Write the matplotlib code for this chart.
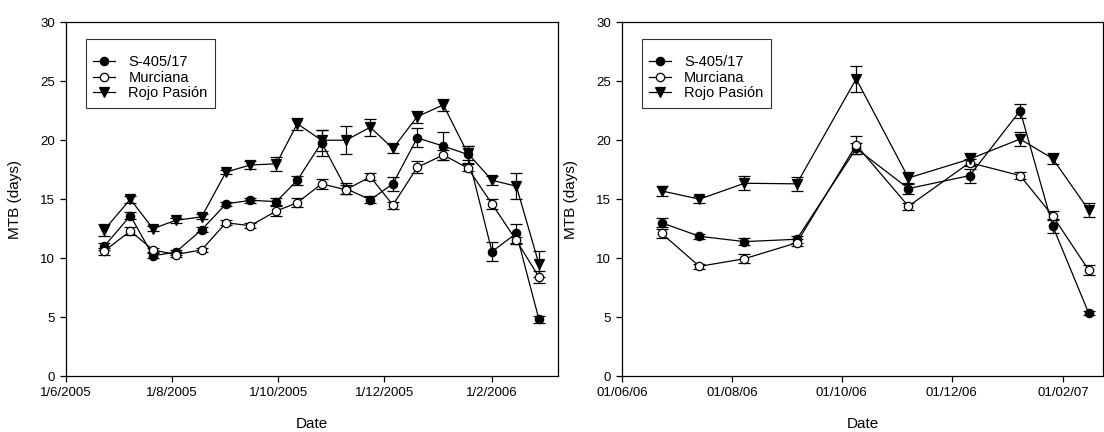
import matplotlib
matplotlib.use("Agg")
import matplotlib.pyplot as plt
import matplotlib.dates as mdates
from matplotlib.lines import Line2D
import numpy as np
import datetime as dt

plt.rcParams['font.family'] = ['Liberation Sans', 'DejaVu Sans']

# Datos campaña 2005-2006
dates_0506 = ['2005-06-23', '2005-07-08', '2005-07-21', '2005-08-03', '2005-08-18',
              '2005-09-01', '2005-09-15', '2005-09-30', '2005-10-12', '2005-10-26',
              '2005-11-09', '2005-11-23', '2005-12-06', '2005-12-20', '2006-01-04',
              '2006-01-18', '2006-02-01', '2006-02-15', '2006-02-28']
s405_0506 = [11.0, 13.6, 10.2, 10.5, 12.4, 14.6, 14.9, 14.8, 16.6, 19.8,
             15.9, 14.95, 16.3, 20.2, 19.5, 18.8, 10.55, 12.1, 4.8]
s405_0506_err = [0.3, 0.3, 0.2, 0.2, 0.2, 0.2, 0.2, 0.3, 0.4, 1.1,
                 0.5, 0.3, 0.6, 0.8, 1.2, 0.7, 0.8, 0.8, 0.3]
murc_0506 = [10.6, 12.3, 10.7, 10.3, 10.7, 13.0, 12.75, 14.0, 14.7, 16.3,
             15.8, 16.9, 14.5, 17.7, 18.75, 17.65, 14.6, 11.5, 8.4]
murc_0506_err = [0.3, 0.3, 0.2, 0.2, 0.2, 0.2, 0.2, 0.4, 0.4, 0.4,
                 0.4, 0.3, 0.3, 0.5, 0.4, 0.3, 0.4, 0.3, 0.5]
rojo_0506 = [12.4, 15.0, 12.5, 13.2, 13.5, 17.3, 17.9, 18.0, 21.4, 20.0,
             20.0, 21.1, 19.3, 22.0, 23.0, 18.9, 16.6, 16.1, 9.5]
rojo_0506_err = [0.5, 0.3, 0.2, 0.2, 0.2, 0.2, 0.3, 0.6, 0.5, 0.9,
                 1.2, 0.7, 0.4, 0.5, 0.5, 0.6, 0.4, 1.1, 1.1]

# Datos campaña 2006-2007
dates_0607 = ['2006-06-23', '2006-07-14', '2006-08-08', '2006-09-06', '2006-10-09',
              '2006-11-07', '2006-12-11', '2007-01-08', '2007-01-26', '2007-02-15']
s405_0607 = [13.0, 11.85, 11.4, 11.6, 19.3, 15.9, 17.0, 22.5, 12.75, 5.35]
s405_0607_err = [0.4, 0.2, 0.3, 0.3, 0.5, 0.5, 0.6, 0.6, 0.6, 0.2]
murc_0607 = [12.1, 9.3, 9.95, 11.3, 19.6, 14.4, 18.1, 17.0, 13.6, 9.0]
murc_0607_err = [0.4, 0.2, 0.4, 0.3, 0.8, 0.3, 0.3, 0.3, 0.4, 0.4]
rojo_0607 = [15.7, 15.0, 16.35, 16.3, 25.2, 16.8, 18.4, 20.1, 18.45, 14.1]
rojo_0607_err = [0.4, 0.3, 0.6, 0.6, 1.1, 0.5, 0.5, 0.6, 0.5, 0.6]

series_names = ['S-405/17', 'Murciana', 'Rojo Pasión']
markers = ['o', 'o', 'v']
face_colors = ['black', 'white', 'black']


def Draw_Panel(ax, dates, series, errors, xlim, tick_dates, tick_fmt):
    x = [dt.datetime.strptime(d, '%Y-%m-%d') for d in dates]
    handles = []
    for vals, errs, name, mk, fc in zip(series, errors, series_names, markers, face_colors):
        ms = 6.8 if mk == 'v' else 6
        ax.errorbar(x, vals, yerr=errs, color='black', lw=0.9, elinewidth=0.9,
                    capsize=4.5, capthick=0.9, marker=mk, ms=ms,
                    mfc=fc, mec='black', mew=0.9)
        handles.append(Line2D([], [], color='black', lw=0.9, marker=mk, ms=ms,
                              mfc=fc, mec='black', mew=0.9, label=name))

    ax.set_xlim(xlim)
    ax.set_ylim(0, 30)
    ax.set_yticks(np.arange(0, 31, 5))
    ax.set_xticks(tick_dates)
    ax.xaxis.set_major_formatter(mdates.DateFormatter(tick_fmt))
    ax.tick_params(direction='out', length=4.5, width=0.9, labelsize=9.5,
                   top=False, right=False)
    for sp in ax.spines.values():
        sp.set_linewidth(0.9)
    ax.set_xlabel('Date', fontsize=11, labelpad=13)
    ax.set_ylabel('MTB (days)', fontsize=11, labelpad=13)

    leg = ax.legend(handles=handles, loc='upper left', bbox_to_anchor=(0.041, 0.953),
                    fontsize=10.5, title=' ', title_fontsize=6,
                    frameon=True, fancybox=False, handlelength=1.5, borderpad=0.5,
                    labelspacing=0.12, handletextpad=0.9, borderaxespad=0)
    leg.get_frame().set_edgecolor('black')
    leg.get_frame().set_linewidth(0.8)


fig = plt.figure(figsize=(11.04, 4.32), dpi=100)
ax1 = fig.add_axes([0.0598, 0.1296, 0.4457, 0.8187])
ax2 = fig.add_axes([0.5634, 0.1296, 0.4357, 0.8187])

Draw_Panel(ax1, dates_0506,
           [s405_0506, murc_0506, rojo_0506],
           [s405_0506_err, murc_0506_err, rojo_0506_err],
           (dt.datetime(2005, 6, 1), dt.datetime(2006, 3, 11)),
           [dt.datetime(2005, m, 1) for m in (6, 8, 10, 12)] + [dt.datetime(2006, 2, 1)],
           '%-d/%-m/%Y')

Draw_Panel(ax2, dates_0607,
           [s405_0607, murc_0607, rojo_0607],
           [s405_0607_err, murc_0607_err, rojo_0607_err],
           (dt.datetime(2006, 6, 1), dt.datetime(2007, 2, 23)),
           [dt.datetime(2006, m, 1) for m in (6, 8, 10, 12)] + [dt.datetime(2007, 2, 1)],
           '%d/%m/%y')

fig.savefig('out.png', dpi=100)
